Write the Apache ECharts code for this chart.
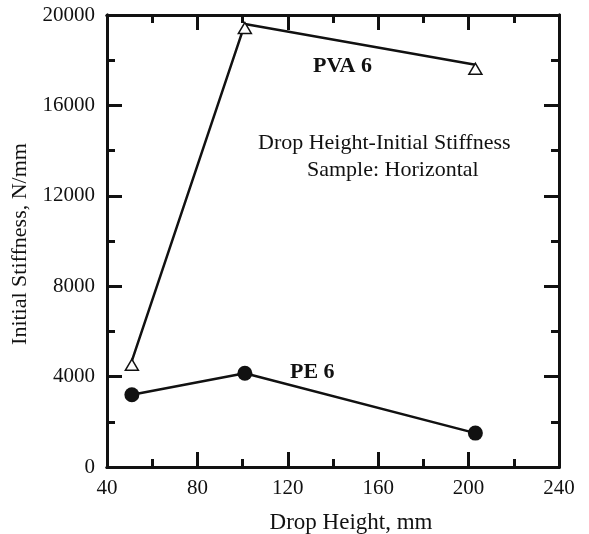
<!DOCTYPE html>
<html>
<head>
<meta charset="utf-8">
<script src="https://cdn.jsdelivr.net/npm/echarts@6/dist/echarts.min.js"></script>
<style>
html, body { margin: 0; padding: 0; background: #fff; }
#main { width: 589px; height: 534px; }
</style>
</head>
<body>
<div id="main"></div>
<script>
// drop height (mm) vs initial stiffness (N/mm)
var peHeights = [51, 101, 203];
var peStiffness = [3200, 4150, 1500];
var pvaHeights = [51, 101, 203];
var pvaStiffness = [4700, 19600, 17800];

var xTicks = [40, 80, 120, 160, 200, 240];
var yTicks = [0, 4000, 8000, 12000, 16000, 20000];

var FONT = '"Liberation Serif", "DejaVu Serif", serif';
var INK = '#111';

function pairs(xs, ys) {
    var out = [];
    for (var i = 0; i < xs.length; i++) out.push([xs[i], ys[i]]);
    return out;
}

var dom = document.getElementById('main');
var chart = echarts.init(dom);

// one axis per side and tick size: long ticks on the labelled steps, short ones halfway
function frameAxis(ticks, pos, step, len, labels) {
    return {
        type: 'value',
        min: ticks[0], max: ticks[ticks.length - 1], interval: step,
        position: pos,
        axisLine: {show: true, onZero: false, lineStyle: {color: INK, width: 3}},
        axisTick: {show: true, inside: true, length: len, lineStyle: {color: INK, width: 3}},
        splitLine: {show: false},
        axisLabel: labels ? {
            color: INK, fontFamily: FONT, fontSize: 21,
            margin: (pos === 'bottom' ? 11 : 12),
            formatter: function (v) { return String(v); }
        } : {show: false}
    };
}

var xStep = xTicks[1] - xTicks[0];
var yStep = yTicks[1] - yTicks[0];

var option = {
    animation: false,
    backgroundColor: '#fff',
    grid: {left: 107, right: 30, top: 15, bottom: 67},
    xAxis: [
        frameAxis(xTicks, 'bottom', xStep, 15, true),
        frameAxis(xTicks, 'bottom', xStep / 2, 8, false),
        frameAxis(xTicks, 'top', xStep, 15, false),
        frameAxis(xTicks, 'top', xStep / 2, 8, false)
    ],
    yAxis: [
        frameAxis(yTicks, 'left', yStep, 15, true),
        frameAxis(yTicks, 'left', yStep / 2, 8, false),
        frameAxis(yTicks, 'right', yStep, 15, false),
        frameAxis(yTicks, 'right', yStep / 2, 8, false)
    ],
    series: [{
        name: 'PVA 6', type: 'line',
        data: pairs(pvaHeights, pvaStiffness),
        symbol: 'triangle', symbolSize: [13, 11], symbolOffset: [0, 4],
        itemStyle: {color: '#fff', borderColor: INK, borderWidth: 1.5},
        lineStyle: {color: INK, width: 2.5},
        z: 3
    }, {
        name: 'PE 6', type: 'line',
        data: pairs(peHeights, peStiffness),
        symbol: 'circle', symbolSize: 15,
        itemStyle: {color: INK, borderWidth: 0},
        lineStyle: {color: INK, width: 2.5},
        z: 3
    }],
    graphic: [
        {type: 'text', left: 313, top: 55, style: {text: 'PVA 6', font: 'bold 22px ' + FONT, fill: INK}},
        {type: 'text', left: 290, top: 361, style: {text: 'PE 6', font: 'bold 22px ' + FONT, fill: INK}},
        {type: 'text', left: 258, top: 132, style: {text: 'Drop Height-Initial Stiffness', font: '22px ' + FONT, fill: INK}},
        {type: 'text', left: 307, top: 159, style: {text: 'Sample: Horizontal', font: '22px ' + FONT, fill: INK}},
        {type: 'text', x: 351, y: 523, style: {text: 'Drop Height, mm', font: '23px ' + FONT, fill: INK, align: 'center', verticalAlign: 'middle'}},
        {type: 'text', x: 20, y: 244, rotation: Math.PI / 2, style: {text: 'Initial Stiffness, N/mm', font: '22px ' + FONT, fill: INK, align: 'center', verticalAlign: 'middle'}}
    ]
};

chart.setOption(option);

window.addEventListener('resize', function () {
    chart.resize();
});
</script>
</body>
</html>
